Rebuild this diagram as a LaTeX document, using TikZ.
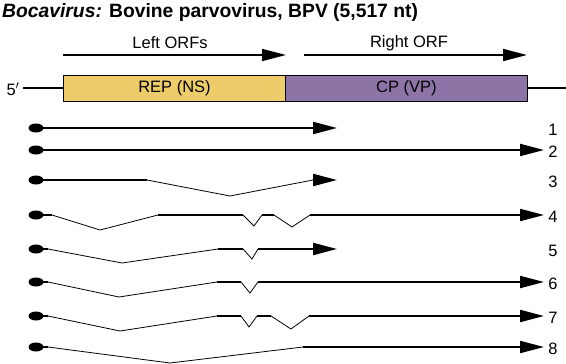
\documentclass[tikz,border=0pt]{standalone}
\usepackage{fontspec}
\setmainfont{Liberation Sans}
\usetikzlibrary{arrows.meta,shapes.geometric}
\definecolor{repyellow}{RGB}{239,204,106}
\definecolor{cppurple}{RGB}{141,116,166}
\tikzset{
  exon/.style={line width=2pt},
  intron/.style={line width=0.8pt},
  tip/.style={-{Triangle[length=24pt,width=12pt]}},
  capdot/.style={ellipse,fill=black,minimum width=15pt,minimum height=9pt,inner sep=0pt},
  gene/.style={draw=black,line width=1pt,minimum height=26pt,inner sep=0pt,font=\fontsize{16.5}{19}\selectfont},
  lbl/.style={font=\fontsize{16.5}{19}\selectfont},
}
\begin{document}
\begin{tikzpicture}[x=1pt,y=-1pt]
  \useasboundingbox (0,0) rectangle (566,364);
  % Title
  \node[anchor=base west,inner sep=0pt,font=\bfseries\fontsize{19.3}{22}\selectfont] (title) at (2,17)
    {\textit{Bocavirus:} Bovine parvovirus, BPV (5,517 nt)};
  % ORF arrows
  \coordinate (lorfa) at (63,55);  \coordinate (lorfb) at (286,55);
  \coordinate (rorfa) at (304,55); \coordinate (rorfb) at (527,55);
  \draw[line width=1.6pt,tip] (lorfa) -- (lorfb);
  \draw[line width=1.6pt,tip] (rorfa) -- (rorfb);
  \node[lbl] (lorf) at (170,43) {Left ORFs};
  \node[lbl] (rorf) at (409,43) {Right ORF};
  % Genome
  \node[gene,fill=repyellow,minimum width=222pt] (rep) at (174.5,88) {REP (NS)};
  \node[gene,fill=cppurple,minimum width=242pt] (cp) at (406.5,88) {CP (VP)};
  \node[lbl] (five) at (13,89) {5$'$};
  \coordinate (lend) at (23,88); \coordinate (rend) at (566,88);
  \draw[line width=1.2pt] (lend) -- (rep.west);
  \draw[line width=1.2pt] (cp.east) -- (rend);
  % Transcripts: caps and numbers
  \foreach \n/\y in {1/128, 2/150, 3/180, 4/215, 5/249, 6/282, 7/316, 8/347} {
    \node[capdot] (s\n) at (36,\y) {};
    \node[lbl] (n\n) at (553,\y+1.5) {\n};
  }
  % 1 and 2
  \draw[exon,tip] (s1.center) -- (337,128);
  \draw[exon,tip] (s2.center) -- (544,150);
  % 3
  \draw[exon] (s3.center) -- (147,180);
  \draw[intron] (147,180) -- (230,196) -- (313,180);
  \draw[exon,tip] (313,180) -- (337,180);
  % 4
  \draw[exon] (s4.center) -- (52,215);
  \draw[intron] (52,215) -- (100,230) -- (158,215);
  \draw[exon] (158,215) -- (243,215);
  \draw[intron] (243,215) -- (254,226) -- (262,215);
  \draw[exon] (262,215) -- (274,215);
  \draw[intron] (274,215) -- (292,227) -- (310,215);
  \draw[exon,tip] (310,215) -- (544,215);
  % 5
  \draw[exon] (s5.center) -- (48,249);
  \draw[intron] (48,249) -- (122,263) -- (218,249);
  \draw[exon] (218,249) -- (243,249);
  \draw[intron] (243,249) -- (252,259) -- (258,249);
  \draw[exon,tip] (258,249) -- (337,249);
  % 6
  \draw[exon] (s6.center) -- (48,282);
  \draw[intron] (48,282) -- (119,297) -- (217,282);
  \draw[exon] (217,282) -- (241,282);
  \draw[intron] (241,282) -- (250,293) -- (258,282);
  \draw[exon,tip] (258,282) -- (544,282);
  % 7
  \draw[exon] (s7.center) -- (48,316);
  \draw[intron] (48,316) -- (120,331) -- (217,316);
  \draw[exon] (217,316) -- (241,316);
  \draw[intron] (241,316) -- (249,327) -- (257,316);
  \draw[exon] (257,316) -- (271,316);
  \draw[intron] (271,316) -- (291,329) -- (309,316);
  \draw[exon,tip] (309,316) -- (544,316);
  % 8
  \draw[exon] (s8.center) -- (48,347);
  \draw[intron] (48,347) -- (170,363) -- (303,347);
  \draw[exon,tip] (303,347) -- (544,347);
\end{tikzpicture}
\end{document}
